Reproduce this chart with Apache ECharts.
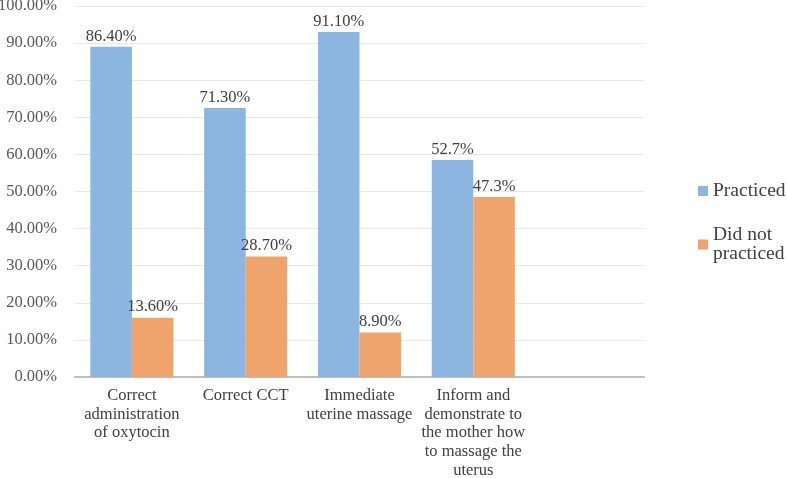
<!DOCTYPE html>
<html>
<head>
<meta charset="utf-8">
<script src="https://cdn.jsdelivr.net/npm/echarts@6/dist/echarts.min.js"></script>
<style>html,body{margin:0;padding:0;background:#fff}#c{width:787px;height:478px}</style>
</head>
<body>
<div id="c"></div>
<script>
const categories = [
  "Correct\nadministration\nof oxytocin",
  "Correct CCT",
  "Immediate\nuterine massage",
  "Inform and\ndemonstrate to\nthe mother how\nto massage the\nuterus",
  ""
];
const seriesNames = ["Practiced", "Did not\npracticed"];
const practicedValues = [89, 72.5, 93, 58.5, null];
const notPracticedValues = [16, 32.5, 12, 48.5, null];
const practicedLabels = ["86.40%", "71.30%", "91.10%", "52.7%", ""];
const notPracticedLabels = ["13.60%", "28.70%", "8.90%", "47.3%", ""];
const yTicks = [0, 10, 20, 30, 40, 50, 60, 70, 80, 90, 100];

const font = "Liberation Serif";
const chart = echarts.init(document.getElementById('c'));
function mk(values, labels) {
  return values.map((v, i) => ({ value: v, label: { formatter: labels[i] } }));
}
chart.setOption({
  animation: false,
  textStyle: { fontFamily: font },
  grid: { left: 75, right: 143, top: 6, bottom: 101, containLabel: false, outerBoundsMode: 'none' },
  legend: {
    orient: 'vertical',
    left: 693,
    top: 176,
    itemWidth: 10,
    itemHeight: 10,
    itemGap: 24,
    icon: 'rect',
    textStyle: { fontFamily: font, fontSize: 19.5, color: '#404040', lineHeight: 19 },
    data: seriesNames
  },
  xAxis: {
    type: 'category',
    data: categories,
    axisTick: { show: false },
    axisLine: { lineStyle: { color: '#bfbfbf', width: 2 } },
    axisLabel: { fontFamily: font, fontSize: 16.5, color: '#404040', lineHeight: 18.8, margin: 9, interval: 0 }
  },
  yAxis: {
    type: 'value',
    min: 0, max: 100, interval: 10,
    axisLine: { show: false },
    axisTick: { show: false },
    splitLine: { lineStyle: { color: '#e8e8e8', width: 1 } },
    axisLabel: {
      fontFamily: font, fontSize: 16.5, color: '#595959', margin: 18,
      formatter: v => yTicks.includes(v) ? v.toFixed(2) + '%' : ''
    }
  },
  series: [
    {
      name: seriesNames[0], type: 'bar', data: mk(practicedValues, practicedLabels),
      itemStyle: { color: '#8cb5df' }, barGap: '0%', barCategoryGap: '27%',
      label: { show: true, position: 'top', distance: 2, fontFamily: font, fontSize: 16.5, color: '#404040' }
    },
    {
      name: seriesNames[1], type: 'bar', data: mk(notPracticedValues, notPracticedLabels),
      itemStyle: { color: '#f0a46d' }, barGap: '0%', barCategoryGap: '27%',
      label: { show: true, position: 'top', distance: 2, fontFamily: font, fontSize: 16.5, color: '#404040' }
    }
  ]
});
</script>
</body>
</html>
